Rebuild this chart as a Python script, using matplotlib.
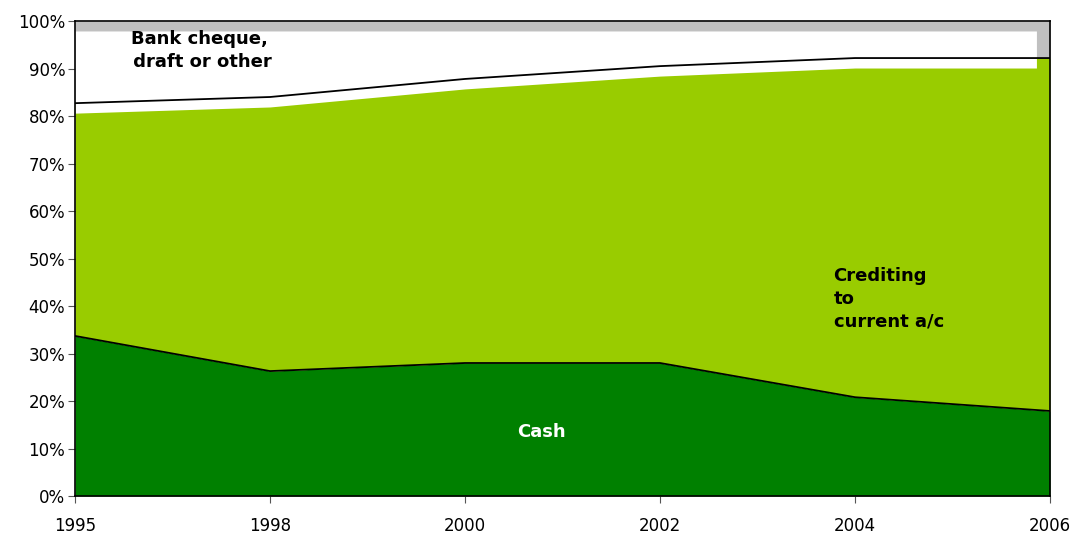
import matplotlib
matplotlib.use('Agg')
from matplotlib import pyplot as plt
import numpy as np

years = ['1995', '1998', '2000', '2002', '2004', '2006']
cash = [33.7, 26.3, 28.0, 28.0, 20.8, 17.9]
crediting = [49.0, 57.7, 59.8, 62.5, 71.4, 74.3]
other = [17.3, 16.0, 12.2, 9.5, 7.8, 7.8]

DARK = '#008000'
LIGHT = '#99cc00'
GREY = '#c0c0c0'

x = np.arange(len(years))
cash_top = np.array(cash)
cred_top = cash_top + np.array(crediting)
other_top = cred_top + np.array(other)

fig = plt.figure(figsize=(10.77, 5.33), dpi=100)
ax = fig.add_axes([0.0696, 0.0694, 0.9054, 0.8912])

ax.fill_between(x, 0, cash_top, color=DARK, lw=0, zorder=1)
ax.fill_between(x, cash_top, cred_top, color=LIGHT, lw=0, zorder=1)
ax.fill_between(x, cred_top, other_top, color=GREY, lw=0, zorder=1)

# white label box sitting over the top band, ends just short of the last year
box_x = np.append(x[:-1], 4.93)
box_low = np.interp(box_x, x, cred_top) - 2.1
ax.fill_between(box_x, box_low, 97.9, color='white', lw=0, zorder=2)

ax.plot(x, cash_top, color='black', lw=1.3, zorder=3)
ax.plot(x, cred_top, color='black', lw=1.3, zorder=3)

ax.text(0.64, 93.8, 'Bank cheque,\n draft or other', fontsize=13, fontweight='bold',
        ha='center', va='center', linespacing=1.35, zorder=4)
ax.text(3.89, 48.2, 'Crediting\nto\ncurrent a/c', fontsize=13, fontweight='bold',
        ha='left', va='top', linespacing=1.35, zorder=4)
ax.text(2.39, 13.5, 'Cash', fontsize=13, fontweight='bold', color='white',
        ha='center', va='center', zorder=4)

ax.set_xlim(0, len(years) - 1)
ax.set_ylim(0, 100)
ax.set_xticks(x)
ax.set_xticklabels(years, fontsize=12)
ax.set_yticks(np.arange(0, 101, 10))
ax.set_yticklabels([f'{v}%' for v in range(0, 101, 10)], fontsize=12)
ax.tick_params(axis='x', length=5, pad=10, color='#555555')
ax.tick_params(axis='y', length=5, pad=2, color='#555555')
for s in ax.spines.values():
    s.set_linewidth(1.2)
    s.set_zorder(5)

fig.savefig('out.png', dpi=100)
